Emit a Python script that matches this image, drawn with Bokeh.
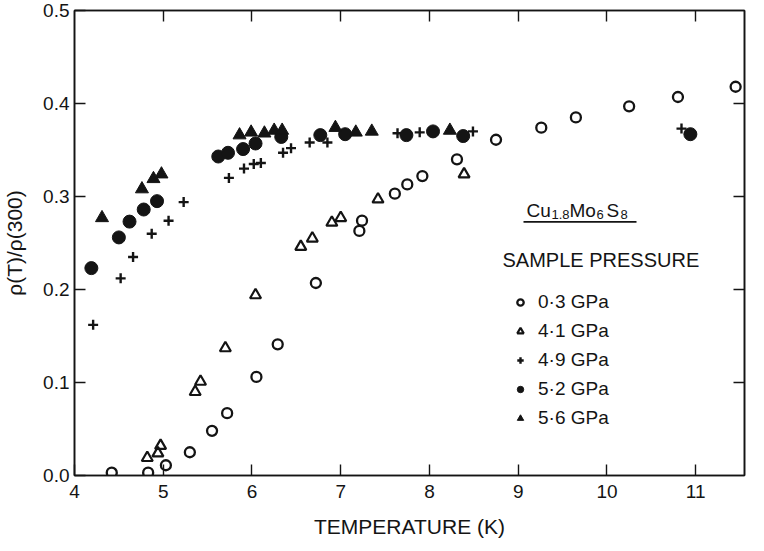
from bokeh.plotting import figure
from bokeh.models import (Range1d, LinearAxis, FixedTicker, Legend, LegendItem,
                          Label, BoxAnnotation, CustomJSTickFormatter)
from bokeh.embed import file_html
from bokeh.resources import INLINE

FONT = "Liberation Sans"
INK = "#141414"

# ---- data ----
t_03 = [4.42, 4.83, 5.03, 5.30, 5.55, 5.72, 6.05, 6.29, 6.72, 7.21, 7.24, 7.61,
        7.75, 7.92, 8.31, 8.75, 9.26, 9.65, 10.25, 10.80, 11.45]
r_03 = [0.003, 0.003, 0.011, 0.025, 0.048, 0.067, 0.106, 0.141, 0.207, 0.263, 0.274,
        0.303, 0.313, 0.322, 0.340, 0.361, 0.374, 0.385, 0.397, 0.407, 0.418]

t_41 = [4.82, 4.94, 4.97, 5.36, 5.42, 5.70, 6.04, 6.55, 6.68, 6.90, 7.00, 7.42, 8.39]
r_41 = [0.019, 0.024, 0.032, 0.090, 0.101, 0.137, 0.194, 0.246, 0.255, 0.272, 0.277,
        0.297, 0.324]

t_49 = [4.21, 4.52, 4.66, 4.87, 5.06, 5.23, 5.74, 5.91, 6.02, 6.10, 6.35, 6.44, 6.65,
        6.85, 7.64, 7.89, 8.49, 10.84]
r_49 = [0.162, 0.212, 0.235, 0.260, 0.274, 0.294, 0.320, 0.330, 0.335, 0.336, 0.347,
        0.352, 0.358, 0.358, 0.368, 0.369, 0.370, 0.373]

t_52 = [4.19, 4.50, 4.62, 4.78, 4.93, 5.62, 5.73, 5.90, 6.04, 6.33, 6.77, 7.05, 7.74,
        8.04, 8.38, 10.94]
r_52 = [0.223, 0.256, 0.273, 0.286, 0.295, 0.343, 0.347, 0.351, 0.357, 0.364, 0.366,
        0.367, 0.366, 0.370, 0.365, 0.367]

t_56 = [4.31, 4.76, 4.89, 4.98, 5.86, 5.99, 6.14, 6.25, 6.34, 6.94, 7.17, 7.35, 8.23]
r_56 = [0.277, 0.308, 0.319, 0.324, 0.366, 0.369, 0.368, 0.371, 0.371, 0.374, 0.369,
        0.370, 0.371]

series_labels = ["0·3 GPa", "4·1 GPa", "4·9 GPa", "5·2 GPa", "5·6 GPa"]

x_ticks = [4, 5, 6, 7, 8, 9, 10, 11]
x_tick_labels = ["4", "5", "6", "7", "8", "9", "10", "11"]
y_ticks = [0.0, 0.1, 0.2, 0.3, 0.4, 0.5]
y_tick_labels = ["0.0", "0.1", "0.2", "0.3", "0.4", "0.5"]

x_title = "TEMPERATURE (K)"
y_title = "ρ(T)/ρ(300)"
legend_heading = "SAMPLE PRESSURE"

# ---- figure ----
p = figure(width=750, height=540, x_range=Range1d(4, 11.55), y_range=Range1d(0, 0.5),
           output_backend="svg", toolbar_location=None,
           min_border_left=72, min_border_right=6, min_border_top=10, min_border_bottom=60,
           background_fill_color="white", border_fill_color="white")
p.grid.visible = False
p.outline_line_color = INK
p.outline_line_width = 1.5

r1 = p.scatter(t_03, r_03, marker="circle", size=10, fill_color=None,
               line_color=INK, line_width=2.3)
r2 = p.scatter(t_41, r_41, marker="triangle", size=11, fill_color=None,
               line_color=INK, line_width=2.2)
r3 = p.scatter(t_49, r_49, marker="cross", size=10, line_color=INK, line_width=2.4)
r4 = p.scatter(t_52, r_52, marker="circle", size=13, fill_color=INK, line_color=INK)
r5 = p.scatter(t_56, r_56, marker="triangle", size=13, fill_color=INK, line_color=INK)


def style_axis(ax):
    ax.axis_line_color = INK
    ax.axis_line_width = 1.6
    ax.major_tick_line_color = INK
    ax.major_tick_line_width = 1.4
    ax.major_tick_in = 11
    ax.major_tick_out = 0
    ax.minor_tick_in = 0
    ax.minor_tick_out = 0
    ax.major_label_text_font = FONT
    ax.major_label_text_font_size = "19px"
    ax.major_label_text_color = INK
    ax.axis_label_text_font = FONT
    ax.axis_label_text_font_size = "21px"
    ax.axis_label_text_font_style = "normal"
    ax.axis_label_text_color = INK


xa = p.xaxis[0]
xa.ticker = FixedTicker(ticks=x_ticks)
xa.major_label_overrides = dict(zip(x_ticks, x_tick_labels))
xa.axis_label = x_title
style_axis(xa)
xa.major_label_standoff = 9
xa.axis_label_standoff = 14

ya = p.yaxis[0]
ya.ticker = FixedTicker(ticks=y_ticks)
ya.major_label_overrides = dict(zip(y_ticks, y_tick_labels))
ya.axis_label = y_title
style_axis(ya)
ya.major_label_standoff = 5
ya.axis_label_standoff = 14

blank = CustomJSTickFormatter(code="return ''")
top = LinearAxis(ticker=FixedTicker(ticks=x_ticks[1:]), formatter=blank)
style_axis(top)
top.major_label_standoff = 0
p.add_layout(top, "above")

right = LinearAxis(ticker=FixedTicker(ticks=y_ticks[1:-1]), formatter=blank)
style_axis(right)
right.major_label_standoff = 0
p.add_layout(right, "right")

# ---- legend ----
legend = Legend(items=[LegendItem(label=lab, renderers=[r])
                       for lab, r in zip(series_labels, [r1, r2, r3, r4, r5])],
                location=(438, 46))
legend.background_fill_alpha = 0
legend.border_line_color = None
legend.label_text_font = FONT
legend.label_text_font_size = "19px"
legend.label_text_color = INK
legend.glyph_width = 16
legend.glyph_height = 22
legend.label_height = 22
legend.spacing = 7
legend.padding = 4
legend.margin = 0
legend.label_standoff = 10
p.add_layout(legend)

# compound name with subscripts and underline
def txt(s, x, y, size):
    p.add_layout(Label(x=x, y=y, x_units="screen", y_units="screen", text=s,
                       text_font=FONT, text_font_size=size, text_color=INK,
                       text_baseline="alphabetic"))

txt("Cu", 452, 265, "19px")
txt("1.8", 477, 261, "13px")
txt("Mo", 495, 265, "19px")
txt("6", 522, 261, "13px")
txt("S", 532, 265, "19px")
txt("8", 546, 261, "13px")
p.add_layout(BoxAnnotation(left=449, right=562, bottom=252.8, top=254.4,
                           left_units="screen", right_units="screen",
                           bottom_units="screen", top_units="screen",
                           fill_color=INK, fill_alpha=1, line_color=None))
txt(legend_heading, 428, 216, "20px")

open("out.html", "w").write(file_html(p, INLINE))
